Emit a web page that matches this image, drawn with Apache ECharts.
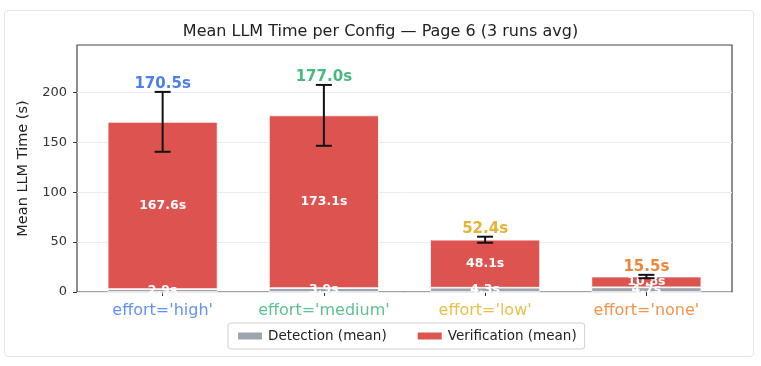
<!DOCTYPE html>
<html>
<head>
<meta charset="utf-8">
<script src="https://cdn.jsdelivr.net/npm/echarts@6/dist/echarts.min.js"></script>
<style>
  html, body { margin: 0; padding: 0; background: #fff; }
  #wrap { position: relative; width: 761px; height: 366px; }
  #chart { position: absolute; left: 0; top: 0; width: 761px; height: 366px; }
  #card { position: absolute; left: 4px; top: 10px; width: 750px; height: 347px;
          border: 1px solid #e4e4e4; border-radius: 4px; box-sizing: border-box; pointer-events: none; }
</style>
</head>
<body>
<div id="wrap"><div id="chart"></div><div id="card"></div></div>
<script>
const categories = ["effort='high'", "effort='medium'", "effort='low'", "effort='none'"];
const detection = [2.9, 3.9, 4.3, 4.7];
const verification = [167.6, 173.1, 48.1, 10.8];
const totals = [170.5, 177.0, 52.4, 15.5];
const errors = [30, 30.5, 3, 1.7];
const yTicks = [0, 50, 100, 150, 200];
const labelColors = ['#4a7ff0', '#47b97f', '#e6b434', '#f0843a'];
const tickColors = ['#6492f3', '#5ec192', '#e9bf4e', '#f29450'];

const FONT = 'DejaVu Sans';
const YMAX = 247.5;

const rich = {};
tickColors.forEach((c, i) => { rich['c' + i] = { color: c, fontSize: 16, fontFamily: FONT }; });

const chart = echarts.init(document.getElementById('chart'), null, { renderer: 'canvas' });
chart.setOption({
  animation: false,
  backgroundColor: 'transparent',
  textStyle: { fontFamily: FONT },
  title: {
    text: 'Mean LLM Time per Config — Page 6 (3 runs avg)',
    left: 'center', top: 19,
    textStyle: { fontFamily: FONT, fontSize: 16, fontWeight: 'normal', color: '#222' }
  },
  grid: [
    { left: 82, right: 34, top: 45, bottom: 74, show: false },
    { left: 77, right: 29, top: 45, bottom: 74, show: true, borderColor: '#444', borderWidth: 1.2,
      backgroundColor: 'transparent' }
  ],
  legend: {
    left: 228, top: 323,
    data: ['Detection (mean)', 'Verification (mean)'],
    icon: 'rect', itemWidth: 26, itemHeight: 9, itemGap: 29,
    padding: [6, 8], borderColor: '#d0d0d0', borderWidth: 1, borderRadius: 3,
    textStyle: { fontFamily: FONT, fontSize: 13.5, color: '#222' }
  },
  xAxis: [
    {
      type: 'category', gridIndex: 0, data: categories,
      axisLine: { show: false },
      splitLine: { show: false },
      axisTick: { show: true, alignWithLabel: true, length: 4, lineStyle: { color: '#333', width: 1 } },
      axisLabel: {
        margin: 11, interval: 0,
        formatter: (v, i) => '{c' + i + '|' + v + '}',
        rich: rich
      }
    },
    { type: 'value', gridIndex: 1, min: 0, max: 1, show: false }
  ],
  yAxis: [
    { type: 'value', gridIndex: 0, min: 0, max: YMAX, show: false, splitLine: { show: false } },
    {
      type: 'value', gridIndex: 1, min: 0, max: YMAX,
      name: 'Mean LLM Time (s)', nameLocation: 'middle', nameGap: 46,
      nameTextStyle: { fontFamily: FONT, fontSize: 14.5, color: '#222' },
      axisLine: { show: false },
      axisTick: { show: true, customValues: yTicks, length: 4, lineStyle: { color: '#333' } },
      axisLabel: { customValues: yTicks, margin: 10, fontFamily: FONT, fontSize: 13, color: '#333' },
      splitLine: { show: true, lineStyle: { color: '#ebebeb', width: 1 } }
    }
  ],
  series: [
    {
      name: 'Detection (mean)', type: 'bar', stack: 'tot', barWidth: 110,
      xAxisIndex: 0, yAxisIndex: 0,
      data: detection,
      itemStyle: { color: '#9ea4b0', borderColor: '#fff', borderWidth: 0.8 },
      label: { show: true, position: 'inside', formatter: (p) => p.value.toFixed(1) + 's',
               color: '#fff', fontWeight: 'bold', fontSize: 12.5, fontFamily: FONT }
    },
    {
      name: 'Verification (mean)', type: 'bar', stack: 'tot', barWidth: 110,
      xAxisIndex: 0, yAxisIndex: 0,
      data: verification,
      itemStyle: { color: '#dd5350', borderColor: '#fff', borderWidth: 0.8 },
      label: { show: true, position: 'inside', formatter: (p) => p.value.toFixed(1) + 's',
               color: '#fff', fontWeight: 'bold', fontSize: 12.5, fontFamily: FONT }
    },
    {
      name: 'err', type: 'custom', clip: false, z: 10,
      xAxisIndex: 0, yAxisIndex: 0,
      data: totals.map((t, i) => [i, t, errors[i]]),
      encode: { x: 0, y: 1 },
      renderItem: function (params, api) {
        const i = api.value(0), t = api.value(1), e = api.value(2);
        const top = api.coord([i, t + e]);
        const bot = api.coord([i, t - e]);
        const cw = 8;
        const ls = { stroke: '#111', lineWidth: 2 };
        return {
          type: 'group',
          children: [
            { type: 'line', shape: { x1: top[0], y1: top[1], x2: bot[0], y2: bot[1] }, style: ls },
            { type: 'line', shape: { x1: top[0] - cw, y1: top[1], x2: top[0] + cw, y2: top[1] }, style: ls },
            { type: 'line', shape: { x1: bot[0] - cw, y1: bot[1], x2: bot[0] + cw, y2: bot[1] }, style: ls },
            { type: 'text', style: {
                text: t.toFixed(1) + 's', x: top[0], y: top[1] - 0.5,
                align: 'center', verticalAlign: 'bottom',
                fill: labelColors[i], font: 'bold 15px "DejaVu Sans"'
              } }
          ]
        };
      }
    }
  ]
});
</script>
</body>
</html>
